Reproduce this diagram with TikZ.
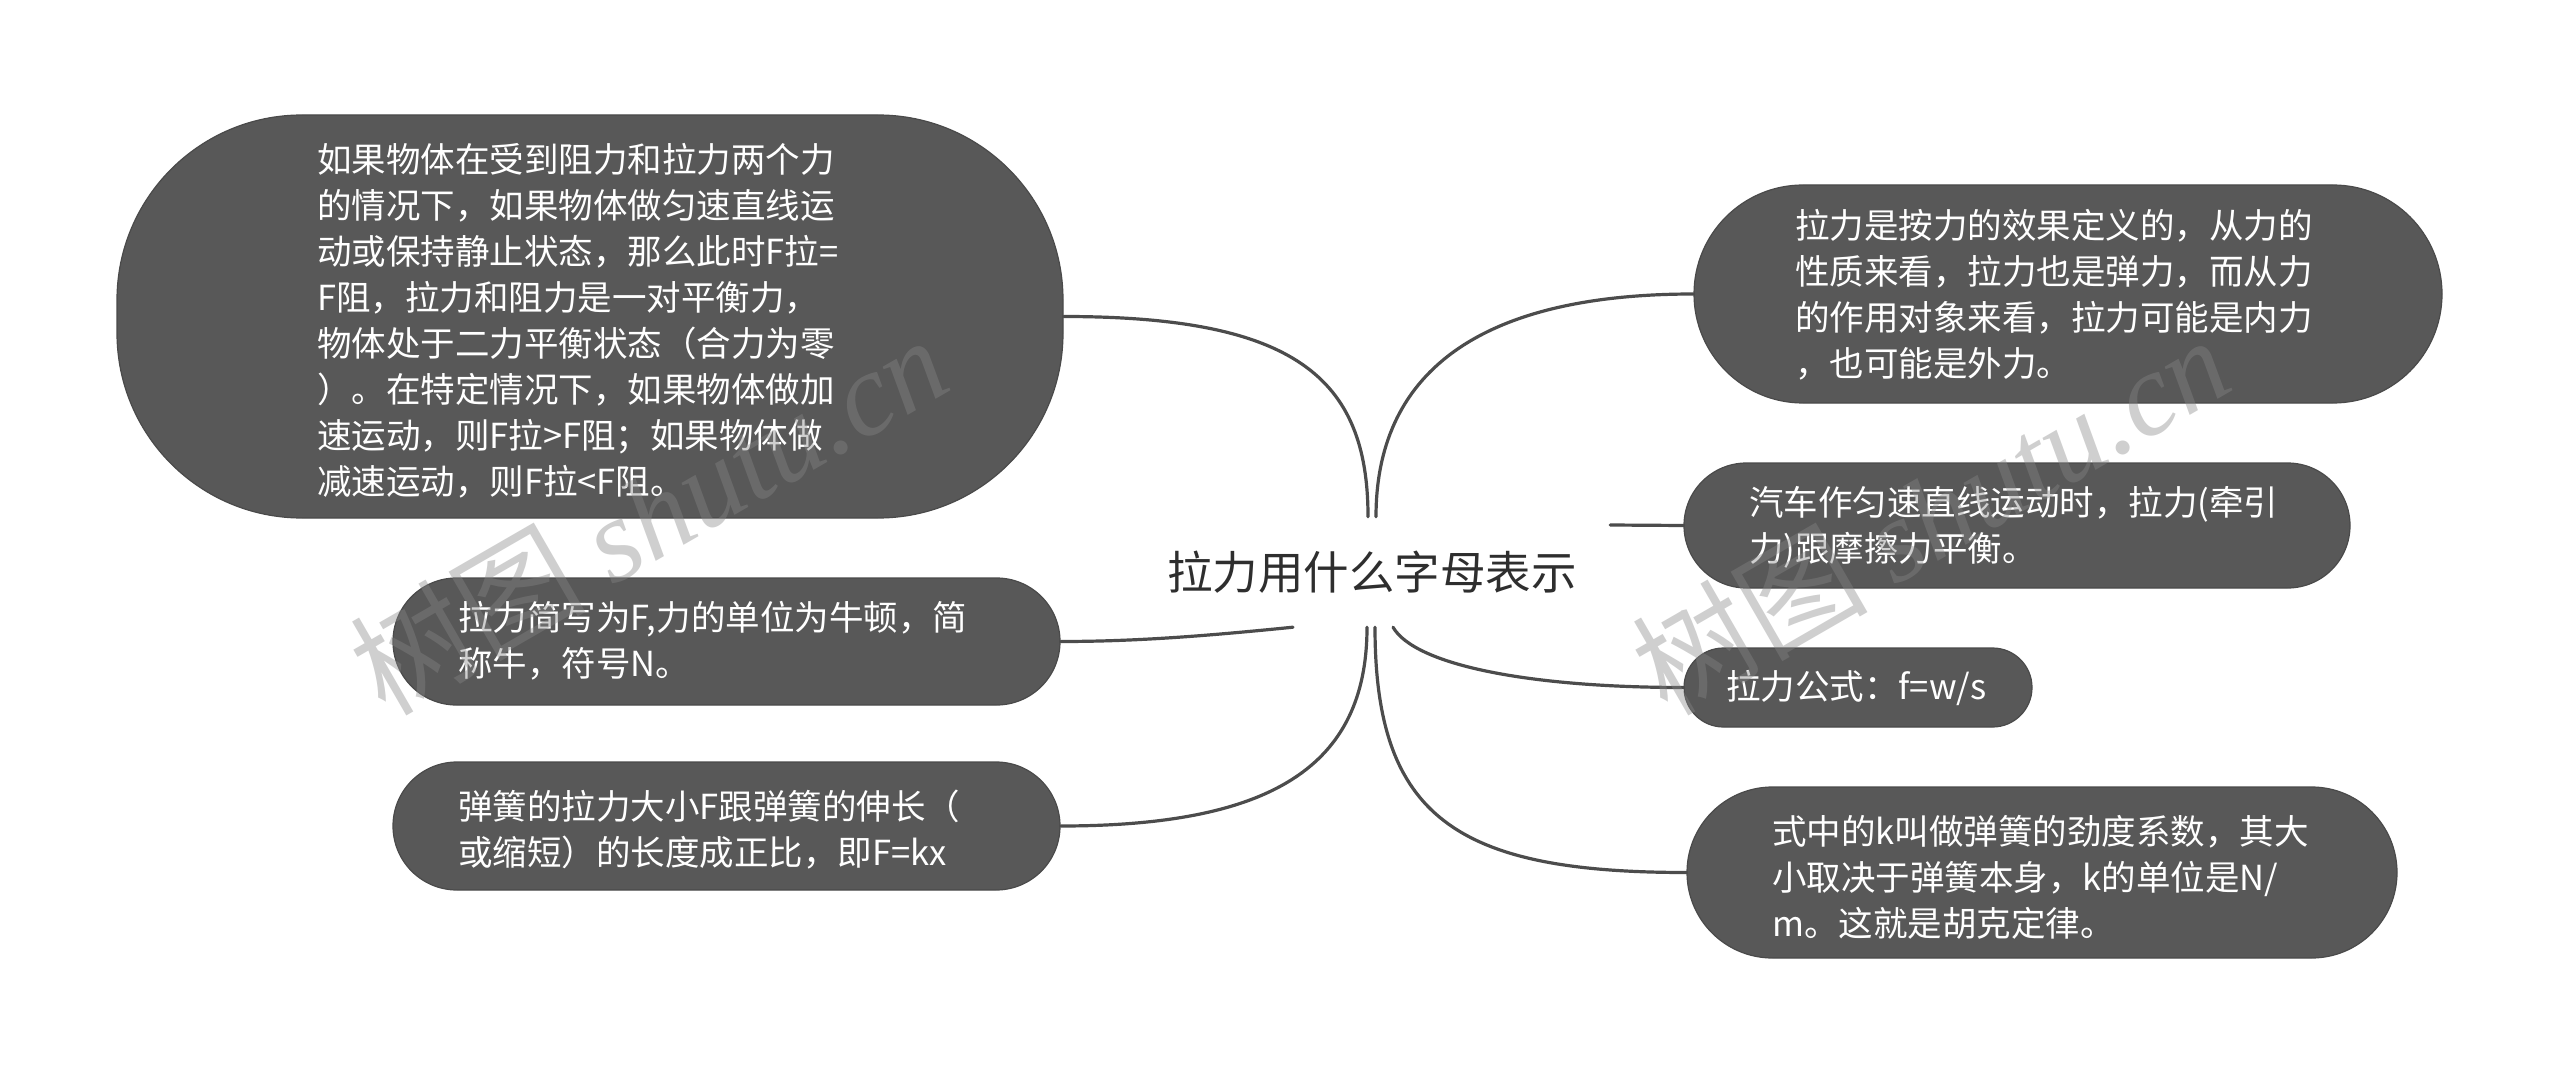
\documentclass[tikz,border=0pt]{standalone}
\usepackage{fontspec}
\setmainfont{Noto Sans CJK SC}
\newfontfamily\wmlatin{Liberation Serif}
\usetikzlibrary{shapes.misc,calc}
\definecolor{boxc}{HTML}{585858}
\definecolor{boxedge}{HTML}{4A4A4A}
\definecolor{linec}{HTML}{4C4C4C}
\definecolor{titlec}{HTML}{2E2E2E}
\definecolor{wmc}{HTML}{878787}
\tikzset{
  pill/.style={shape=rounded rectangle, fill=boxc, draw=boxedge, line width=1.2pt, inner sep=0pt},
  bigpill/.style={shape=rectangle, rounded corners=185pt, fill=boxc, draw=boxedge, line width=1.2pt, inner sep=0pt},
  boxtext/.style={anchor=west, inner sep=0pt, align=left, text=white, font=\fontsize{34.5}{46}\selectfont},
  title/.style={inner sep=0pt, text=titlec, font=\fontsize{45.5}{55}\selectfont},
  conn/.style={draw=linec, line width=3.2pt, line cap=round},
  wm/.style={text=wmc, opacity=0.4, rotate=30, inner sep=0pt, font=\fontsize{118}{130}\selectfont}
}
\begin{document}
\begin{tikzpicture}[x=1pt,y=-1pt]
\useasboundingbox[fill=white] (0,0) rectangle (2560,1075);

% central topic
\node[title, minimum width=486pt, minimum height=110pt] (c) at (1372,572) {拉力用什么字母表示};

% boxes
\node[bigpill, minimum width=946pt, minimum height=403pt] (b1) at (590,316.5) {};
\node[pill, minimum width=748pt, minimum height=218pt] (b2) at (2068,294) {};
\node[pill, minimum width=666pt, minimum height=125pt] (b3) at (2017,525.5) {};
\node[pill, minimum width=348pt, minimum height=79pt] (b4) at (1858,687.5) {};
\node[pill, minimum width=710pt, minimum height=171pt] (b5) at (2042,872.5) {};
\node[pill, minimum width=667pt, minimum height=127pt] (b6) at (726.5,641.5) {};
\node[pill, minimum width=667pt, minimum height=128pt] (b7) at (726.5,826) {};

% texts
\node[boxtext] (t1) at (317,320.5) {如果物体在受到阻力和拉力两个力\\的情况下，如果物体做匀速直线运\\动或保持静止状态，那么此时F拉=\\F阻，拉力和阻力是一对平衡力，\\物体处于二力平衡状态（合力为零\\）。在特定情况下，如果物体做加\\速运动，则F拉>F阻；如果物体做\\减速运动，则F拉<F阻。};
\node[boxtext] (t2) at (1795,295) {拉力是按力的效果定义的，从力的\\性质来看，拉力也是弹力，而从力\\的作用对象来看，拉力可能是内力\\，也可能是外力。};
\node[boxtext] (t3) at (1749,527.5) {汽车作匀速直线运动时，拉力(牵引\\力)跟摩擦力平衡。};
\node[boxtext] (t4) at (1726,688) {拉力公式：f=w/s};
\node[boxtext] (t5) at (1772,877) {式中的k叫做弹簧的劲度系数，其大\\小取决于弹簧本身，k的单位是N/\\m。这就是胡克定律。};
\node[boxtext] (t6) at (458,641) {拉力简写为F,力的单位为牛顿，简\\称牛，符号N。};
\node[boxtext] (t7) at (458,830) {弹簧的拉力大小F跟弹簧的伸长（\\或缩短）的长度成正比，即F=kx};

% connector anchors on the central topic
\coordinate (cT1) at ($(c.north)+(-4,0)$);
\coordinate (cT2) at ($(c.north)+(4,0)$);
\coordinate (cB0) at ($(c.south)+(-79,0)$);
\coordinate (cB1) at ($(c.south)+(-5,0)$);
\coordinate (cB2) at ($(c.south)+(3,0)$);
\coordinate (cB3) at ($(c.south)+(21,0)$);
\coordinate (cR) at ($(c.east)+(-5,-47)$);

% connectors
\draw[conn] (cT1) .. controls +(0,-140) and +(230,0) .. (b1.east);
\draw[conn] (cT2) .. controls +(0,-140) and +(-220,0) .. (b2.west);
\draw[conn] (cR) -- (b3.west);
\draw[conn] (cB3) .. controls +(22,38) and +(-154,0) .. (b4.west);
\draw[conn] (cB2) .. controls +(0,190) and +(-230,0) .. (b5.west);
\draw[conn] (cB0) .. controls +(-80,8) and +(80,0) .. (b6.east);
\draw[conn] (cB1) .. controls +(0,140) and +(210,0) .. (b7.east);

% watermarks
\node[wm] (w1) at (648,514) {树图 {\wmlatin\itshape shutu.cn}};
\node[wm] (w2) at (1930,514) {树图 {\wmlatin\itshape shutu.cn}};
\end{tikzpicture}
\end{document}
